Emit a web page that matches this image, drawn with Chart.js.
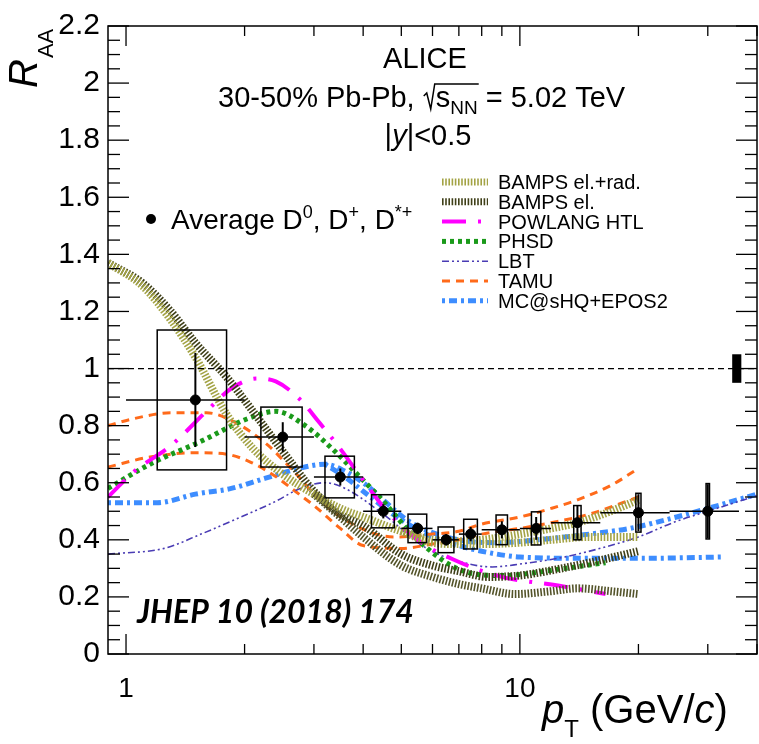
<!DOCTYPE html>
<html>
<head>
<meta charset="utf-8">
<script src="https://cdn.jsdelivr.net/npm/chart.js@4.4.0/dist/chart.umd.min.js"></script>
<style>
  html, body { margin: 0; padding: 0; background: #fff; overflow: hidden; }
  #wrap { width: 759px; height: 744px; overflow: hidden; position: relative; }
</style>
</head>
<body>
<div id="wrap"><canvas id="raaChart" width="763" height="744"></canvas></div>
<script>
// ---- measured D-meson RAA (average D0, D+, D*+) ----
const ptCenter = [1.5, 2.5, 3.5, 4.5, 5.5, 6.5, 7.5, 9, 11, 14, 20, 30];
const ptLow    = [1, 2, 3, 4, 5, 6, 7, 8, 10, 12, 16, 24];
const ptHigh   = [2, 3, 4, 5, 6, 7, 8, 10, 12, 16, 24, 36];
const raa      = [0.89, 0.76, 0.62, 0.50, 0.44, 0.40, 0.42, 0.435, 0.44, 0.46, 0.495, 0.50];
const statErr  = [0.165, 0.052, 0.03, 0.025, 0.02, 0.02, 0.025, 0.03, 0.04, 0.06, 0.065, 0.095];
const systErr  = [0.245, 0.105, 0.073, 0.058, 0.05, 0.045, 0.052, 0.052, 0.058, 0.06, 0.068, 0.097];
const systHalfWidth = 0.3;   // GeV/c
const normUnc = 0.05;
const normPt = [34.6, 36.5];

// ---- model curves ----
const bampsRadPt = [0.9, 1.1, 1.3, 1.5, 1.8, 2.1, 2.5, 3, 3.5, 4, 5, 6, 7, 8, 10, 12, 14, 17, 20];
const bampsRadHi = [1.37, 1.29, 1.17, 1.04, 0.84, 0.72, 0.63, 0.56, 0.51, 0.48, 0.43, 0.40, 0.395, 0.40, 0.42, 0.44, 0.46, 0.50, 0.54];
const bampsRadLoPt = [5, 6, 7, 8, 10, 12, 15, 20];
const bampsRadLo   = [0.43, 0.39, 0.385, 0.385, 0.39, 0.40, 0.41, 0.41];

const bampsElPt = [0.9, 1.1, 1.3, 1.5, 1.8, 2.1, 2.5, 3, 3.5, 4, 5, 6, 7, 8.3, 10, 11.7, 15, 20];
const bampsElHi = [1.37, 1.30, 1.20, 1.09, 0.97, 0.85, 0.71, 0.57, 0.49, 0.45, 0.35, 0.31, 0.29, 0.27, 0.275, 0.29, 0.32, 0.36];
const bampsElLoPt = [3, 3.5, 4, 5, 6, 7, 8, 9.7, 12, 14, 17, 20];
const bampsElLo   = [0.56, 0.48, 0.41, 0.31, 0.27, 0.245, 0.23, 0.21, 0.22, 0.23, 0.22, 0.21];

const powlangPt = [0.9, 1.05, 1.3, 1.6, 1.85, 2.15, 2.4, 2.75, 3.1, 3.45, 3.9, 4.6, 5.5, 6.8, 9, 12.5, 16.5];
const powlang   = [0.55, 0.64, 0.73, 0.85, 0.93, 0.965, 0.955, 0.895, 0.81, 0.73, 0.63, 0.50, 0.40, 0.33, 0.27, 0.24, 0.21];

const phsdPt = [0.9, 1.15, 1.55, 2.05, 2.4, 2.85, 3.45, 3.8, 4.4, 5.5, 7.2, 9, 13, 16.5];
const phsd   = [0.58, 0.665, 0.745, 0.826, 0.85, 0.80, 0.70, 0.64, 0.55, 0.40, 0.29, 0.275, 0.30, 0.32];

const lbtPt = [0.9, 1.25, 1.55, 1.85, 2.4, 2.75, 3.2, 3.6, 4.5, 5.8, 7.2, 8.5, 10, 13, 17.5, 20, 25, 30, 40];
const lbt   = [0.35, 0.37, 0.42, 0.465, 0.535, 0.578, 0.60, 0.58, 0.49, 0.37, 0.32, 0.305, 0.315, 0.34, 0.385, 0.41, 0.465, 0.50, 0.555];

const tamuHiPt = [0.9, 1.05, 1.3, 1.6, 1.9, 2.3, 2.5, 2.75, 3, 3.6, 4.8, 6, 7, 8, 10, 12, 14, 17, 20];
const tamuHi   = [0.80, 0.825, 0.845, 0.845, 0.81, 0.73, 0.68, 0.62, 0.56, 0.47, 0.41, 0.42, 0.43, 0.455, 0.48, 0.51, 0.54, 0.59, 0.65];
const tamuLoPt = [0.9, 1.15, 1.5, 1.8, 2.05, 2.35, 2.75, 3, 3.5, 4, 5, 6, 7, 8, 10, 12, 15, 20];
const tamuLo   = [0.655, 0.69, 0.705, 0.70, 0.675, 0.63, 0.56, 0.52, 0.44, 0.38, 0.37, 0.385, 0.40, 0.42, 0.44, 0.46, 0.49, 0.55];

const mcHiPt = [0.9, 1.2, 1.5, 1.85, 2.25, 2.75, 3.2, 3.6, 4, 5.3, 7, 8.8, 12, 15, 19, 25, 30, 40];
const mcHi   = [0.53, 0.53, 0.56, 0.58, 0.615, 0.65, 0.665, 0.64, 0.60, 0.46, 0.40, 0.39, 0.405, 0.42, 0.44, 0.48, 0.51, 0.56];
const mcLoPt = [3.2, 3.6, 4, 5, 6, 7, 8, 10, 15, 20, 33];
const mcLo   = [0.665, 0.62, 0.57, 0.47, 0.41, 0.38, 0.36, 0.34, 0.335, 0.335, 0.34];

// ---- axes ----
const xMin = 0.9, xMax = 40;
const yMin = 0, yMax = 2.2;
const xLabelTicks = [1, 10];
const xMinorTicks = [2, 3, 4, 5, 6, 7, 8, 9, 20, 30, 40];

const FONT = '"Liberation Sans", Arial, Helvetica, sans-serif';

function pts(xs, ys) {
    return xs.map((v, i) => ({ x: v, y: ys[i] }));
}

function curve(label, xs, ys, color, width, dash, inLegend) {
    return {
        label: label,
        data: pts(xs, ys),
        showLine: true,
        borderColor: color,
        backgroundColor: color,
        borderWidth: width,
        borderDash: dash,
        pointRadius: 0,
        cubicInterpolationMode: 'monotone',
        fill: false,
        inLegend: inLegend
    };
}

const datasets = [
    {
        label: 'unity',
        data: pts([xMin, xMax], [1, 1]),
        showLine: true, borderColor: '#000', borderWidth: 1.3, borderDash: [6, 4], pointRadius: 0
    },
    curve('BAMPS el.+rad.', bampsRadPt, bampsRadHi, '#a3a345', 8, [1.6, 1.6], true),
    curve('BAMPS el.+rad. low', bampsRadLoPt, bampsRadLo, '#a3a345', 8, [1.6, 1.6], false),
    curve('BAMPS el.', bampsElPt, bampsElHi, '#3f3f18', 8, [1.6, 1.6], true),
    curve('BAMPS el. low', bampsElLoPt, bampsElLo, '#54542a', 8, [1.6, 1.6], false),
    curve('POWLANG HTL', powlangPt, powlang, '#ff00ff', 4, [24, 12, 3, 12], true),
    curve('PHSD', phsdPt, phsd, '#1a9a1a', 5, [4, 4], true),
    curve('LBT', lbtPt, lbt, '#4a3cb4', 1.6, [7, 3, 2, 3, 2, 3], true),
    curve('TAMU', tamuHiPt, tamuHi, '#ff6a1a', 3, [8, 6], true),
    curve('TAMU low', tamuLoPt, tamuLo, '#ff6a1a', 3, [8, 6], false),
    curve('MC@sHQ+EPOS2', mcHiPt, mcHi, '#3d8dff', 5, [3, 4, 8, 4], true),
    curve('MC@sHQ low', mcLoPt, mcLo, '#3d8dff', 5, [3, 4, 8, 4], false),
    {
        label: 'Average D0, D+, D*+',
        data: pts(ptCenter, raa),
        showLine: false,
        pointRadius: 5,
        pointBackgroundColor: '#000',
        pointBorderColor: '#000',
        order: -1
    }
];

function line(ctx, x1, y1, x2, y2) {
    ctx.beginPath();
    ctx.moveTo(x1, y1);
    ctx.lineTo(x2, y2);
    ctx.stroke();
}

// draw text pieces one after another: [text, font, dy]
function richText(ctx, x, y, parts, align) {
    let total = 0;
    parts.forEach(p => { ctx.font = p[1]; total += ctx.measureText(p[0]).width; });
    let cx = align === 'center' ? x - total / 2 : x;
    parts.forEach(p => {
        ctx.font = p[1];
        ctx.fillText(p[0], cx, y + (p[2] || 0));
        cx += ctx.measureText(p[0]).width;
    });
    return cx;
}

// error bars, systematic boxes, frame and inner ticks
const decorations = {
    id: 'decorations',
    afterDatasetsDraw(chart) {
        const { ctx, chartArea: a, scales: { x, y } } = chart;
        ctx.save();
        ctx.strokeStyle = '#000';
        ctx.fillStyle = '#000';

        // data uncertainties
        ptCenter.forEach((pt, i) => {
            const px = x.getPixelForValue(pt);
            const py = y.getPixelForValue(raa[i]);
            ctx.lineWidth = 1.5;
            const bx1 = x.getPixelForValue(pt - systHalfWidth);
            const bx2 = x.getPixelForValue(pt + systHalfWidth);
            const by1 = y.getPixelForValue(raa[i] + systErr[i]);
            const by2 = y.getPixelForValue(raa[i] - systErr[i]);
            ctx.strokeRect(bx1, by1, bx2 - bx1, by2 - by1);
            line(ctx, x.getPixelForValue(ptLow[i]), py, x.getPixelForValue(ptHigh[i]), py);
            ctx.lineWidth = 2;
            line(ctx, px, y.getPixelForValue(raa[i] + statErr[i]), px, y.getPixelForValue(raa[i] - statErr[i]));
        });

        // normalisation uncertainty
        const nx1 = x.getPixelForValue(normPt[0]);
        const nx2 = x.getPixelForValue(normPt[1]);
        const ny1 = y.getPixelForValue(1 + normUnc);
        const ny2 = y.getPixelForValue(1 - normUnc);
        ctx.fillRect(nx1, ny1, nx2 - nx1, ny2 - ny1);

        // frame
        ctx.lineWidth = 1.5;
        ctx.strokeRect(a.left, a.top, a.right - a.left, a.bottom - a.top);

        // y ticks (left and right)
        ctx.lineWidth = 1.3;
        for (let i = 0; i <= 44; i++) {
            const py = y.getPixelForValue(i * 0.05);
            const len = i % 4 === 0 ? 21 : 12;
            line(ctx, a.left, py, a.left + len, py);
            line(ctx, a.right, py, a.right - len, py);
        }
        // x ticks (bottom and top)
        xLabelTicks.concat(xMinorTicks).forEach(v => {
            const px = x.getPixelForValue(v);
            const len = xLabelTicks.includes(v) ? 20 : 10;
            line(ctx, px, a.bottom, px, a.bottom - len);
            line(ctx, px, a.top, px, a.top + len);
        });
        ctx.restore();
    },
    afterDraw(chart) {
        const { ctx } = chart;
        ctx.save();
        ctx.fillStyle = '#000';
        ctx.textBaseline = 'alphabetic';
        ctx.textAlign = 'left';

        // y axis title
        ctx.save();
        ctx.translate(37, 88);
        ctx.rotate(-Math.PI / 2);
        ctx.font = 'italic 40px ' + FONT;
        ctx.fillText('R', 0, 0);
        const rw = ctx.measureText('R').width;
        ctx.font = '22px ' + FONT;
        ctx.fillText('AA', rw + 1, 16);
        ctx.restore();

        // x axis title
        richText(ctx, 542, 723, [
            ['p', 'italic 40px ' + FONT, 0],
            ['T', '24px ' + FONT, 14],
            [' (GeV/', '40px ' + FONT, 0],
            ['c', 'italic 40px ' + FONT, 0],
            [')', '40px ' + FONT, 0]
        ]);

        // header
        ctx.font = '29px ' + FONT;
        ctx.textAlign = 'center';
        ctx.fillText('ALICE', 425, 68);
        ctx.textAlign = 'left';
        let cx = richText(ctx, 218, 107, [['30-50% Pb-Pb, ', '29px ' + FONT, 0]]);
        // square root sign over s_NN
        ctx.lineWidth = 1.5;
        ctx.strokeStyle = '#000';
        ctx.beginPath();
        ctx.moveTo(cx + 1, 96);
        ctx.lineTo(cx + 4, 93);
        ctx.lineTo(cx + 8, 109);
        ctx.lineTo(cx + 12, 84);
        ctx.lineTo(cx + 56, 84);
        ctx.stroke();
        cx = richText(ctx, cx + 13, 107, [
            ['s', '29px ' + FONT, 0],
            ['NN', '19px ' + FONT, 7]
        ]);
        richText(ctx, cx, 107, [[' = 5.02 TeV', '29px ' + FONT, 0]]);
        richText(ctx, 428, 145, [
            ['|', '29px ' + FONT, 0],
            ['y', 'italic 29px ' + FONT, 0],
            ['|<0.5', '29px ' + FONT, 0]
        ], 'center');

        // data legend
        ctx.beginPath();
        ctx.arc(151, 219, 5, 0, Math.PI * 2);
        ctx.fill();
        richText(ctx, 171, 229, [
            ['Average D', '28px ' + FONT, 0],
            ['0', '18px ' + FONT, -11],
            [', D', '28px ' + FONT, 0],
            ['+', '18px ' + FONT, -11],
            [', D', '28px ' + FONT, 0],
            ['*+', '18px ' + FONT, -11]
        ]);

        // model legend
        const items = chart.data.datasets.filter(d => d.inLegend);
        items.forEach((d, i) => {
            const ry = 182 + i * 19.8;
            ctx.save();
            ctx.strokeStyle = d.borderColor;
            ctx.lineWidth = Math.min(d.borderWidth, 7);
            ctx.setLineDash(d.borderDash || []);
            line(ctx, 442, ry, 488, ry);
            ctx.restore();
            ctx.font = '20px ' + FONT;
            ctx.fillStyle = '#000';
            ctx.fillText(d.label, 498, ry + 7);
        });

        // journal reference
        ctx.font = 'italic bold 32px Lato, ' + FONT;
        ctx.fillText('JHEP 10 (2018) 174', 137, 623);
        ctx.restore();
    }
};

document.addEventListener('DOMContentLoaded', function() {
    const canvas = document.getElementById('raaChart');
    new Chart(canvas, {
        type: 'scatter',
        data: { datasets: datasets },
        options: {
            responsive: false,
            animation: false,
            devicePixelRatio: 1,
            layout: { padding: { top: 22, right: 1, left: 0, bottom: 0 } },
            plugins: {
                legend: { display: false },
                tooltip: { enabled: false }
            },
            scales: {
                x: {
                    type: 'logarithmic',
                    min: xMin,
                    max: xMax,
                    grid: { display: false, drawTicks: false },
                    border: { display: false },
                    afterBuildTicks: function(axis) {
                        axis.ticks = xLabelTicks.map(v => ({ value: v }));
                    },
                    afterFit: function(axis) { axis.height = 90; },
                    ticks: {
                        color: '#000',
                        font: { family: FONT, size: 28 },
                        padding: 18,
                        autoSkip: false,
                        maxRotation: 0,
                        callback: function(value) { return String(value); }
                    }
                },
                y: {
                    min: yMin,
                    max: yMax,
                    grid: { display: false, drawTicks: false },
                    border: { display: false },
                    afterFit: function(axis) { axis.width = 108; },
                    ticks: {
                        stepSize: 0.2,
                        color: '#000',
                        font: { family: FONT, size: 30 },
                        padding: 8,
                        callback: function(value) { return String(Math.round(value * 10) / 10); }
                    }
                }
            }
        },
        plugins: [decorations]
    });
});
</script>
</body>
</html>
